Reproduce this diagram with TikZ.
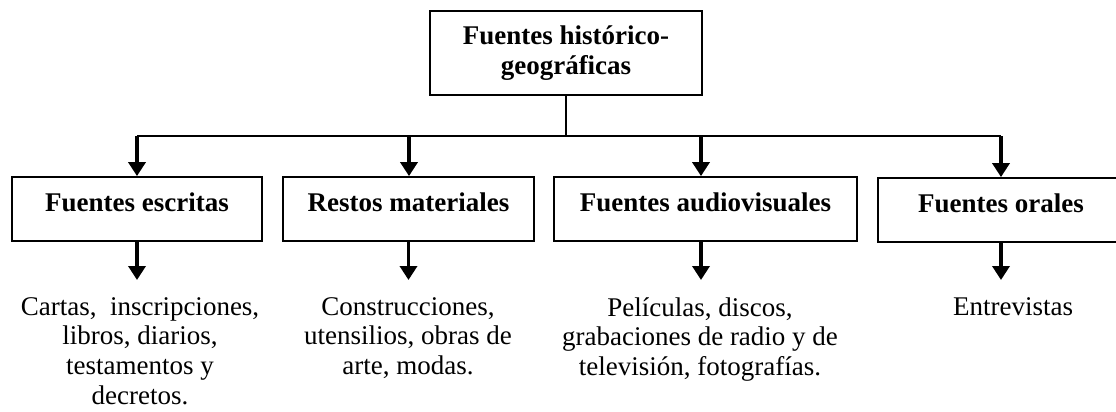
\documentclass[tikz,border=0pt]{standalone}
\usepackage{fontspec}
\setmainfont{Liberation Serif}
\usetikzlibrary{arrows.meta}

\tikzset{
	caja/.style={shape=rectangle, draw=black, line width=0.9pt, minimum width=#1, minimum height=32pt, inner sep=0pt,
		font=\bfseries\fontsize{13.5}{15}\selectfont, text height=9pt, text depth=7pt},
	ejemplos/.style={anchor=north, align=center, inner sep=0pt, font=\fontsize{13.5}{14.8}\selectfont},
	flecha/.style={-{Triangle[width=8.5pt,length=7pt]}, line width=1.8pt},
	linea/.style={-, line width=0.9pt},
}

\begin{document}
\begin{tikzpicture}[x=0.5pt, y=-0.5pt]
	\useasboundingbox (0,0) rectangle (1116,412);
	\clip (0,0) rectangle (1116,412);

	\node[shape=rectangle, draw=black, line width=0.9pt, minimum width=136pt, minimum height=42pt, align=center,
		inner sep=0pt, font=\bfseries\fontsize{13.5}{15}\selectfont] (fuentes) at (566,53)
		{Fuentes histórico-\\geográficas};

	\coordinate (j1) at (137,136);
	\coordinate (j2) at (409,136);
	\coordinate (j3) at (701,136);
	\coordinate (j4) at (1001,136);

	\node[caja=125pt]   (escritas)  at (137,209)    {Fuentes escritas};
	\node[caja=125.5pt] (restos)    at (408.5,209)  {Restos materiales};
	\node[caja=151.5pt] (audio)     at (705.5,209)  {Fuentes audiovisuales};
	\node[caja=123pt]   (orales)    at (1001,210)   {Fuentes orales};

	\node[ejemplos] (cartas)        at (140,297)  {Cartas,\ \ inscripciones,\\libros, diarios,\\testamentos y\\decretos.};
	\node[ejemplos] (construcciones) at (408,297) {Construcciones,\\utensilios, obras de\\arte, modas.};
	\node[ejemplos] (peliculas)     at (700,297)  {Películas, discos,\\grabaciones de radio y de\\televisión, fotografías.};
	\node[ejemplos] (entrevistas)   at (1013,297) {Entrevistas};

	\path [linea] (fuentes) edge (fuentes.south |- j1);
	\path [linea] (j1) edge (j4);

	\path [flecha] (j1) edge (j1 |- escritas.north);
	\path [flecha] (j2) edge (j2 |- restos.north);
	\path [flecha] (j3) edge (j3 |- audio.north);
	\path [flecha] (j4) edge (j4 |- orales.north);

	\path [flecha, shorten >=8.5pt] (escritas.south) edge (escritas.south |- cartas.north);
	\path [flecha, shorten >=8.5pt] (restos.south)   edge (restos.south |- construcciones.north);
	\path [flecha, shorten >=8.5pt] (j3 |- audio.south) edge (j3 |- peliculas.north);
	\path [flecha, shorten >=8.5pt] (orales.south)   edge (orales.south |- entrevistas.north);
\end{tikzpicture}
\end{document}
